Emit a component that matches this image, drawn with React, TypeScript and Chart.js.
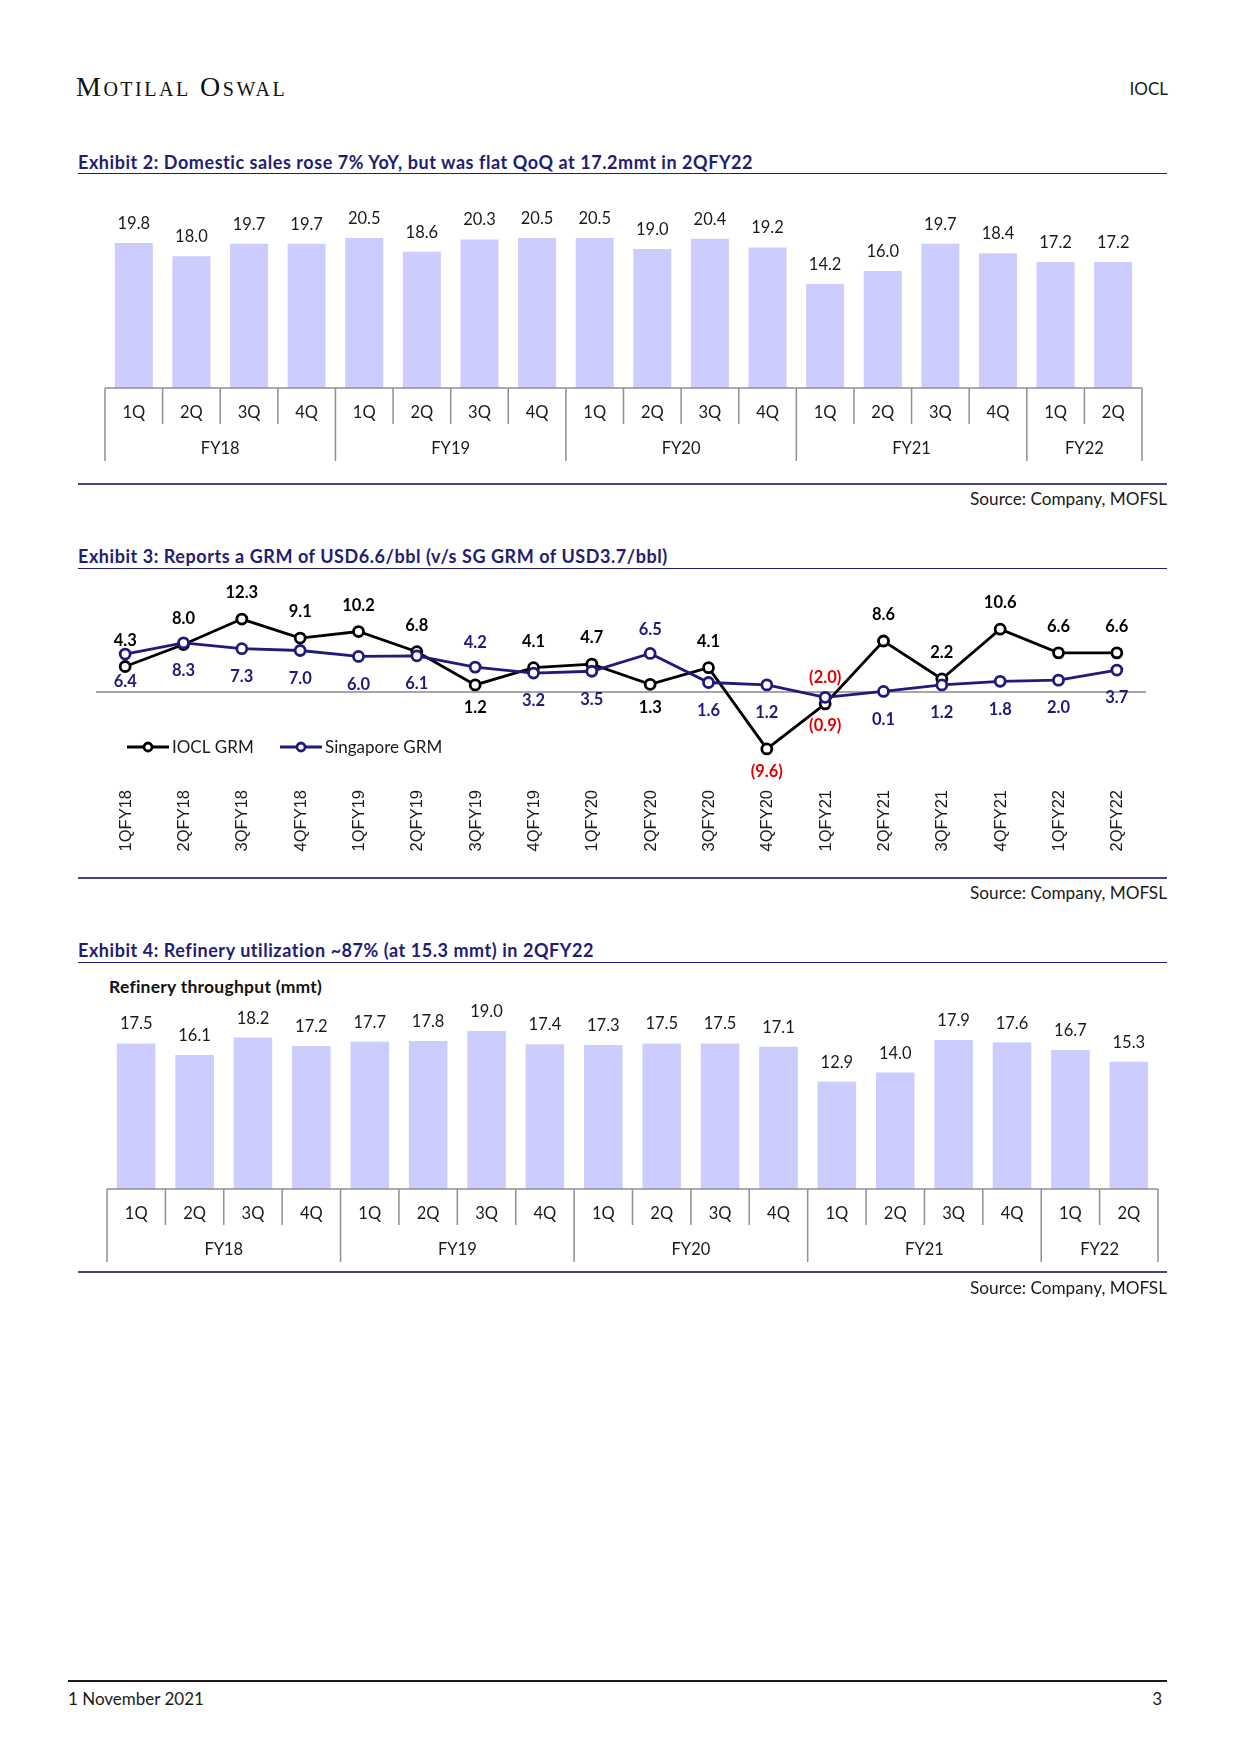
import React, { useEffect, useRef } from 'react';
import { Chart, registerables } from 'chart.js';

Chart.register(...registerables);

// ---------------- Data ----------------
// Exhibit 2: Domestic sales (mmt)
const salesQuarters = ['1Q', '2Q', '3Q', '4Q', '1Q', '2Q', '3Q', '4Q', '1Q', '2Q', '3Q', '4Q', '1Q', '2Q', '3Q', '4Q', '1Q', '2Q'];
const salesYears = ['FY18', 'FY18', 'FY18', 'FY18', 'FY19', 'FY19', 'FY19', 'FY19', 'FY20', 'FY20', 'FY20', 'FY20', 'FY21', 'FY21', 'FY21', 'FY21', 'FY22', 'FY22'];
const domesticSales = [19.8, 18.0, 19.7, 19.7, 20.5, 18.6, 20.3, 20.5, 20.5, 19.0, 20.4, 19.2, 14.2, 16.0, 19.7, 18.4, 17.2, 17.2];

// Exhibit 3: GRM (USD/bbl)
const grmPeriods = ['1QFY18', '2QFY18', '3QFY18', '4QFY18', '1QFY19', '2QFY19', '3QFY19', '4QFY19', '1QFY20', '2QFY20', '3QFY20', '4QFY20', '1QFY21', '2QFY21', '3QFY21', '4QFY21', '1QFY22', '2QFY22'];
const ioclGrm = [4.3, 8.0, 12.3, 9.1, 10.2, 6.8, 1.2, 4.1, 4.7, 1.3, 4.1, -9.6, -2.0, 8.6, 2.2, 10.6, 6.6, 6.6];
const singaporeGrm = [6.4, 8.3, 7.3, 7.0, 6.0, 6.1, 4.2, 3.2, 3.5, 6.5, 1.6, 1.2, -0.9, 0.1, 1.2, 1.8, 2.0, 3.7];
// label placement (which points have their value label on the "other" side)
const ioclLabelsBelow = [6, 9, 11];
const singaporeLabelsAbove = [6, 9];

// Exhibit 4: Refinery throughput (mmt)
const refineryQuarters = ['1Q', '2Q', '3Q', '4Q', '1Q', '2Q', '3Q', '4Q', '1Q', '2Q', '3Q', '4Q', '1Q', '2Q', '3Q', '4Q', '1Q', '2Q'];
const refineryYears = ['FY18', 'FY18', 'FY18', 'FY18', 'FY19', 'FY19', 'FY19', 'FY19', 'FY20', 'FY20', 'FY20', 'FY20', 'FY21', 'FY21', 'FY21', 'FY21', 'FY22', 'FY22'];
const refineryThroughput = [17.5, 16.1, 18.2, 17.2, 17.7, 17.8, 19.0, 17.4, 17.3, 17.5, 17.5, 17.1, 12.9, 14.0, 17.9, 17.6, 16.7, 15.3];

// ---------------- Styles ----------------
const FONT = 'Lato, "Noto Sans", sans-serif';
const ARIAL = '"Liberation Sans", Arial, sans-serif';
const NAVY = '#221D72';
const SG_NAVY = '#1F1A7C';
const TEXT = '#1a1a1a';
const BAR = '#CCCCFF';
const AXIS_GREY = '#8F8F8F';
const RED = '#E00000';
const PAGE_W = 1241;
const RIGHT = 1167;

const fmt = (v: number) => (v < 0 ? `(${Math.abs(v).toFixed(1)})` : v.toFixed(1));

// ---------------- Plugins ----------------
function groupedAxisPlugin(quarters: string[], years: string[], values: number[]) {
  return {
    id: 'groupedAxis',
    afterDatasetsDraw(chart: any) {
      const { ctx, chartArea: a } = chart;
      const xs = chart.scales.x;
      const meta = chart.getDatasetMeta(0);
      const n = quarters.length;
      const step = xs.getPixelForValue(1) - xs.getPixelForValue(0);
      const edge = (i: number) => xs.getPixelForValue(0) - step / 2 + i * step;
      const y0 = a.bottom;
      ctx.save();
      // value labels
      ctx.font = `16.5px ${FONT}`;
      ctx.fillStyle = TEXT;
      ctx.textAlign = 'center';
      ctx.textBaseline = 'alphabetic';
      meta.data.forEach((el: any, i: number) => {
        ctx.fillText(fmt(values[i]), el.x, el.y - 14);
      });
      // axis line + separators
      ctx.strokeStyle = AXIS_GREY;
      ctx.lineWidth = 1.5;
      ctx.beginPath();
      ctx.moveTo(edge(0), y0);
      ctx.lineTo(edge(n), y0);
      ctx.stroke();
      for (let i = 0; i <= n; i++) {
        const isGroupEdge = i === 0 || i === n || years[i] !== years[i - 1];
        ctx.beginPath();
        ctx.moveTo(edge(i), y0);
        ctx.lineTo(edge(i), y0 + (isGroupEdge ? 73 : 36));
        ctx.stroke();
      }
      // quarter labels
      ctx.textBaseline = 'middle';
      ctx.fillStyle = TEXT;
      ctx.font = `16.5px ${FONT}`;
      quarters.forEach((q, i) => ctx.fillText(q, xs.getPixelForValue(i), y0 + 25));
      // year labels
      let start = 0;
      for (let i = 1; i <= n; i++) {
        if (i === n || years[i] !== years[start]) {
          ctx.fillText(years[start], (edge(start) + edge(i)) / 2, y0 + 61);
          start = i;
        }
      }
      ctx.restore();
    },
  };
}

const grmPlugin = {
  id: 'grmDecor',
  beforeDatasetsDraw(chart: any) {
    const { ctx, chartArea: a } = chart;
    const y0 = chart.scales.y.getPixelForValue(0);
    ctx.save();
    ctx.strokeStyle = '#A6A6A6';
    ctx.lineWidth = 1.8;
    ctx.beginPath();
    ctx.moveTo(a.left, y0);
    ctx.lineTo(a.right, y0);
    ctx.stroke();
    ctx.restore();
  },
  afterDatasetsDraw(chart: any) {
    const { ctx, chartArea: a } = chart;
    const xs = chart.scales.x;
    ctx.save();
    // data labels
    ctx.font = `bold 16.5px ${FONT}`;
    ctx.textAlign = 'center';
    ctx.textBaseline = 'middle';
    const iocl = chart.getDatasetMeta(0);
    iocl.data.forEach((el: any, i: number) => {
      const v = ioclGrm[i];
      const below = ioclLabelsBelow.includes(i);
      ctx.fillStyle = v < 0 ? RED : '#000000';
      ctx.fillText(fmt(v), el.x, el.y + (below ? 23 : -26));
    });
    const sg = chart.getDatasetMeta(1);
    sg.data.forEach((el: any, i: number) => {
      const v = singaporeGrm[i];
      const above = singaporeLabelsAbove.includes(i);
      ctx.fillStyle = v < 0 ? RED : SG_NAVY;
      ctx.fillText(fmt(v), el.x, el.y + (above ? -24 : 28));
    });
    // rotated category labels
    ctx.font = `16.5px ${ARIAL}`;
    ctx.fillStyle = TEXT;
    ctx.textAlign = 'right';
    ctx.textBaseline = 'middle';
    grmPeriods.forEach((lab, i) => {
      ctx.save();
      ctx.translate(xs.getPixelForValue(i) + 1, a.bottom + 15);
      ctx.rotate(-Math.PI / 2);
      ctx.fillText(lab, 0, 0);
      ctx.restore();
    });
    // legend
    const ly = a.bottom - 28;
    const items = [
      { label: 'IOCL GRM', color: '#000000', x0: 127 },
      { label: 'Singapore GRM', color: SG_NAVY, x0: 280 },
    ];
    items.forEach((it) => {
      ctx.strokeStyle = it.color;
      ctx.lineWidth = 3;
      ctx.beginPath();
      ctx.moveTo(it.x0, ly);
      ctx.lineTo(it.x0 + 42, ly);
      ctx.stroke();
      ctx.beginPath();
      ctx.arc(it.x0 + 21, ly, 4, 0, Math.PI * 2);
      ctx.fillStyle = '#ffffff';
      ctx.fill();
      ctx.lineWidth = 2.8;
      ctx.stroke();
      ctx.font = `17px ${FONT}`;
      ctx.fillStyle = TEXT;
      ctx.textAlign = 'left';
      ctx.textBaseline = 'middle';
      ctx.fillText(it.label, it.x0 + 45, ly + 1);
    });
    ctx.restore();
  },
};

// ---------------- Chart configs ----------------
function barConfig(quarters: string[], years: string[], values: number[], yMax: number, padding: any) {
  return {
    type: 'bar',
    data: {
      labels: quarters.map((q, i) => `${q} ${years[i]}`),
      datasets: [
        {
          data: values,
          backgroundColor: BAR,
          borderWidth: 0,
          barPercentage: 0.66,
          categoryPercentage: 1,
        },
      ],
    },
    options: {
      animation: false,
      responsive: false,
      maintainAspectRatio: false,
      layout: { padding },
      plugins: { legend: { display: false }, tooltip: { enabled: false }, title: { display: false } },
      scales: {
        x: { display: false, offset: true },
        y: { display: false, min: 0, max: yMax },
      },
    },
    plugins: [groupedAxisPlugin(quarters, years, values)],
  };
}

function grmConfig() {
  const common = { borderWidth: 2.8, pointRadius: 5, pointBorderWidth: 2.8, pointBackgroundColor: '#ffffff', tension: 0, fill: false };
  return {
    type: 'line',
    data: {
      labels: grmPeriods,
      datasets: [
        { ...common, label: 'IOCL GRM', data: ioclGrm, borderColor: '#000000', pointBorderColor: '#000000', order: 2 },
        { ...common, label: 'Singapore GRM', data: singaporeGrm, borderColor: SG_NAVY, pointBorderColor: SG_NAVY, order: 1 },
      ],
    },
    options: {
      animation: false,
      responsive: false,
      maintainAspectRatio: false,
      layout: { padding: { left: 96, right: 95, top: 34, bottom: 100 } },
      plugins: { legend: { display: false }, tooltip: { enabled: false }, title: { display: false } },
      scales: {
        x: { display: false, offset: true },
        y: { display: false, min: -14, max: 14 },
      },
    },
    plugins: [grmPlugin],
  };
}

// ---------------- Components ----------------
function ChartCanvas({ top, height, make }: { top: number; height: number; make: () => any }) {
  const ref = useRef<HTMLCanvasElement | null>(null);
  useEffect(() => {
    if (!ref.current) return;
    const chart = new Chart(ref.current, make());
    return () => chart.destroy();
  }, []);
  return (
    <div style={{ position: 'absolute', left: 0, top, width: PAGE_W, height }}>
      <canvas ref={ref} width={PAGE_W} height={height} style={{ width: PAGE_W, height, display: 'block' }} />
    </div>
  );
}

function Txt({ x, y, size = 17, bold = false, color = TEXT, align = 'left', children, family = FONT, spacing = 0 }: any) {
  const style: any = {
    position: 'absolute',
    top: y - 0.53 * size,
    fontSize: size,
    lineHeight: `${size}px`,
    fontWeight: bold ? 700 : 400,
    color,
    fontFamily: family,
    whiteSpace: 'nowrap',
    letterSpacing: spacing,
  };
  if (align === 'right') style.right = PAGE_W - x;
  else style.left = x;
  return <div style={style}>{children}</div>;
}

function HLine({ y, x0 = 78, x1 = RIGHT, h = 1.5, color = NAVY }: any) {
  return <div style={{ position: 'absolute', left: x0, top: y - h / 2, width: x1 - x0, height: h, background: color }} />;
}

export default function App() {
  return (
    <div style={{ position: 'absolute', left: 0, top: 0, width: PAGE_W, height: 1755, background: '#ffffff', fontFamily: FONT }}>
      {/* Header */}
      <div
        style={{
          position: 'absolute',
          left: 76,
          top: 73,
          fontFamily: '"Liberation Serif", "DejaVu Serif", serif',
          fontSize: 28,
          lineHeight: '28px',
          fontVariant: 'small-caps',
          letterSpacing: 2.5,
          color: '#111',
          whiteSpace: 'nowrap',
        }}
      >
        Motilal Oswal
      </div>
      <Txt x={RIGHT + 1} y={89} size={17} align="right">IOCL</Txt>

      {/* Exhibit 2 */}
      <Txt x={78} y={162.5} size={18} bold color={NAVY} spacing={0.55}>Exhibit 2: Domestic sales rose 7% YoY, but was flat QoQ at 17.2mmt in 2QFY22</Txt>
      <HLine y={173.3} />
      <ChartCanvas
        top={190}
        height={290}
        make={() => barConfig(salesQuarters, salesYears, domesticSales, 25, { left: 105, right: 99, top: 15, bottom: 92 })}
      />
      <HLine y={484} h={2} color="#45457F" />
      <Txt x={RIGHT} y={499} size={17.2} align="right">Source: Company, MOFSL</Txt>

      {/* Exhibit 3 */}
      <Txt x={78} y={556.7} size={18} bold color={NAVY} spacing={0.55}>Exhibit 3: Reports a GRM of USD6.6/bbl (v/s SG GRM of USD3.7/bbl)</Txt>
      <HLine y={568.3} />
      <ChartCanvas top={575} height={300} make={() => grmConfig()} />
      <HLine y={877.7} h={2} color="#45457F" />
      <Txt x={RIGHT} y={893.3} size={17.2} align="right">Source: Company, MOFSL</Txt>

      {/* Exhibit 4 */}
      <Txt x={78} y={950.7} size={18} bold color={NAVY} spacing={0.55}>Exhibit 4: Refinery utilization ~87% (at 15.3 mmt) in 2QFY22</Txt>
      <HLine y={962.3} />
      <Txt x={109} y={987} size={17.5} bold color="#111" spacing={0.25}>Refinery throughput (mmt)</Txt>
      <ChartCanvas
        top={990}
        height={290}
        make={() => barConfig(refineryQuarters, refineryYears, refineryThroughput, 22, { left: 107, right: 83, top: 16, bottom: 91 })}
      />
      <HLine y={1271.7} h={2} color="#45457F" />
      <Txt x={RIGHT} y={1287.7} size={17.2} align="right">Source: Company, MOFSL</Txt>

      {/* Footer */}
      <HLine y={1681} x0={68} x1={RIGHT} h={2.5} color="#1a1a1a" />
      <Txt x={68} y={1699} size={17}>1 November 2021</Txt>
      <Txt x={1162} y={1699} size={17} align="right">3</Txt>
    </div>
  );
}
